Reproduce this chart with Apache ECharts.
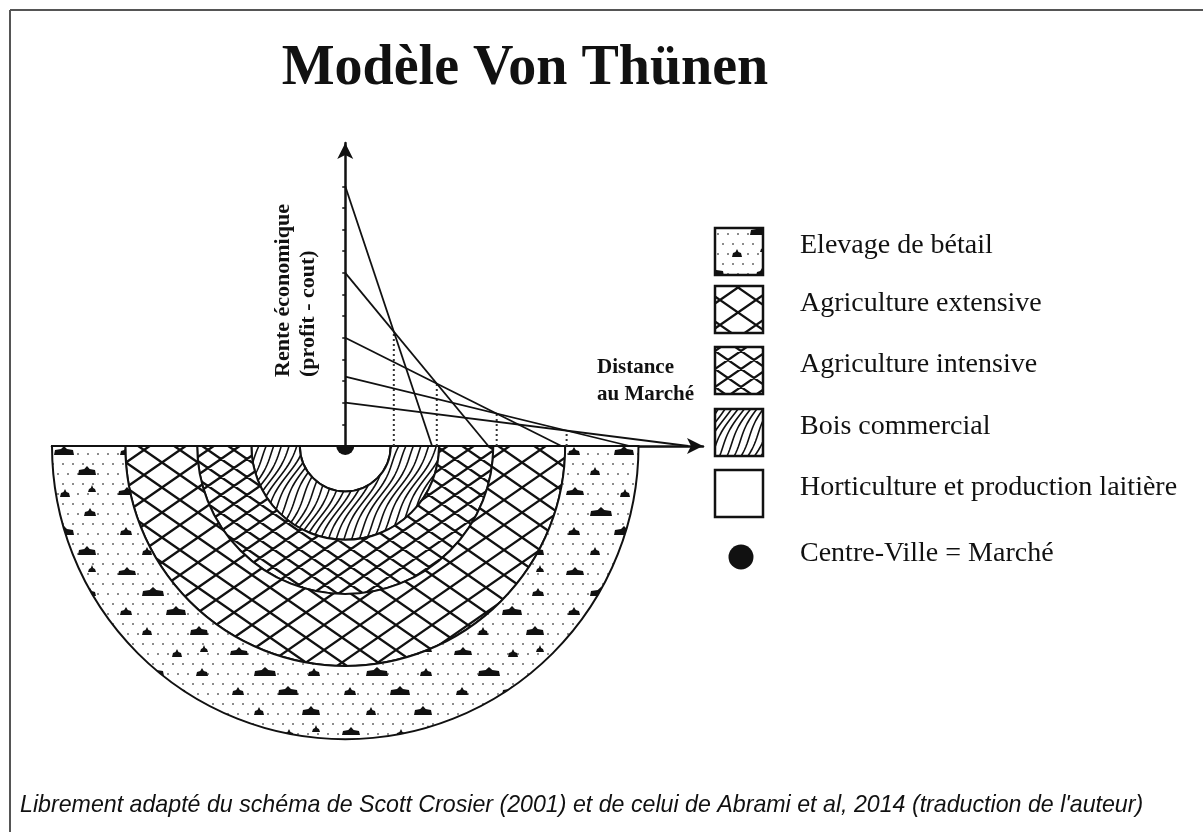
<!DOCTYPE html>
<html>
<head>
<meta charset="utf-8">
<title>Modèle Von Thünen</title>
<script src="https://cdn.jsdelivr.net/npm/echarts@6/dist/echarts.min.js"></script>
<style>
  html, body { margin: 0; padding: 0; background: #fff; }
  #chart { width: 1203px; height: 832px; }
</style>
</head>
<body>
<div id="chart"></div>
<script>
// utilisations du sol, du centre vers l'extérieur
const landUses = ['Horticulture et production laitière', 'Bois commercial', 'Agriculture intensive', 'Agriculture extensive', 'Elevage de bétail']
// rente au marché (distance 0), en graduations
const rentAtMarket = [12, 8, 5, 3.2, 2]
// distance où la rente devient nulle
const rentZeroDistance = [29.6, 48.8, 73.7, 97, 117]
// rayon extérieur de chaque anneau (même unité que la distance)
const ringRadius = [15.5, 32, 50.5, 75, 100]
// graduations de l'axe de la rente
const rentTicks = [1, 2, 3, 4, 5, 6, 7, 8, 9, 10, 11, 12]
// ordre de la légende (indices dans landUses)
const legendOrder = [4, 3, 2, 1, 0]
const marketLabel = 'Centre-Ville = Marché'

const W = 1203, H = 832
const SERIF = "'Liberation Serif', 'Times New Roman', serif"

function makeCanvas() {
  const c = document.createElement('canvas')
  c.width = W
  c.height = H
  const ctx = c.getContext('2d')
  ctx.fillStyle = '#fff'
  ctx.fillRect(0, 0, W, H)
  return [c, ctx]
}

// treillis en losanges (cw = largeur, ch = hauteur d'un losange)
function latticePattern(cw, ch, lw) {
  const [c, ctx] = makeCanvas()
  const s = ch / cw
  ctx.strokeStyle = '#111'
  ctx.lineWidth = lw
  ctx.beginPath()
  const n = Math.ceil((H + s * W) / ch) + 2
  for (let k = -n; k <= n; k++) {
    ctx.moveTo(0, k * ch); ctx.lineTo(W, k * ch + s * W)
    ctx.moveTo(0, k * ch); ctx.lineTo(W, k * ch - s * W)
  }
  ctx.stroke()
  return c
}

// veinure du bois
function woodPattern() {
  const [c, ctx] = makeCanvas()
  ctx.strokeStyle = '#111'
  ctx.lineWidth = 1.6
  for (let d = -700; d < W + 100; d += 7) {
    ctx.beginPath()
    for (let y = 0; y <= H; y += 3) {
      const x = d + (H - y) * 0.55 + 2.5 * Math.sin(y / 11 + d / 23)
      y === 0 ? ctx.moveTo(x, y) : ctx.lineTo(x, y)
    }
    ctx.stroke()
  }
  return c
}

// pâturage : points gris et petites taches noires
function livestockPattern() {
  const [c, ctx] = makeCanvas()
  ctx.fillStyle = '#8c8c8c'
  for (let y = 3, r = 0; y < H; y += 10, r++) {
    for (let x = (r % 2) * 5 + 2; x < W; x += 10) ctx.fillRect(x, y, 2, 2)
  }
  const tw = 112, th = 80
  const blobs = [
    [6, 10, 18, 5], [60, 12, 10, 5], [88, 8, 8, 4],
    [30, 30, 22, 6], [84, 31, 12, 5],
    [8, 50, 12, 5], [54, 49, 20, 6],
    [30, 70, 10, 5], [78, 69, 18, 6]
  ]
  ctx.fillStyle = '#111'
  for (let ty = 0; ty < H; ty += th) {
    for (let tx = 0; tx < W; tx += tw) {
      blobs.forEach(([bx, by, bw, bh]) => {
        const x = tx + bx, y = ty + by
        ctx.beginPath()
        ctx.moveTo(x, y + bh)
        ctx.lineTo(x + bw, y + bh)
        ctx.lineTo(x + bw - 1, y + 1)
        ctx.lineTo(x + bw * 0.65, y)
        ctx.lineTo(x + bw * 0.5, y - 3)
        ctx.lineTo(x + bw * 0.35, y)
        ctx.lineTo(x + 1, y + 1)
        ctx.closePath()
        ctx.fill()
      })
    }
  }
  return c
}

const fills = [
  '#fff',
  { image: woodPattern(), repeat: 'no-repeat' },
  { image: latticePattern(26, 18, 2.3), repeat: 'no-repeat' },
  { image: latticePattern(36, 25, 2.3), repeat: 'no-repeat' },
  { image: livestockPattern(), repeat: 'no-repeat' }
]

// points d'intersection des droites de rente successives
const cuts = []
for (let i = 0; i < landUses.length - 1; i++) {
  const a1 = rentAtMarket[i], b1 = rentZeroDistance[i]
  const a2 = rentAtMarket[i + 1], b2 = rentZeroDistance[i + 1]
  const x = (a1 - a2) / (a1 / b1 - a2 / b2)
  cuts.push([x, a1 * (1 - x / b1)])
}

const rentLines = landUses.map((name, i) => ({
  name,
  type: 'line',
  data: [[0, rentAtMarket[i]], [rentZeroDistance[i], 0]],
  symbol: 'none',
  silent: true,
  z: 5,
  lineStyle: { color: '#111', width: 1.8 }
}))

const dottedLines = cuts.map((p, i) => ({
  name: 'limite ' + (i + 1),
  type: 'line',
  data: [[p[0], 0], [p[0], p[1]]],
  symbol: 'none',
  silent: true,
  z: 4,
  lineStyle: { color: '#333', width: 2, type: [2, 3] }
}))

const rings = {
  name: 'anneaux',
  type: 'custom',
  clip: false,
  silent: true,
  z: 2,
  data: ringRadius.map((r, i) => [i === 0 ? 0 : ringRadius[i - 1], r, i]),
  encode: { x: [0, 1], y: 2 },
  renderItem: (params, api) => {
    const c = api.coord([0, 0])
    const r0 = api.size([api.value(0), 0])[0]
    const r = api.size([api.value(1), 0])[0]
    return {
      type: 'sector',
      shape: { cx: c[0], cy: c[1], r0, r, startAngle: 0, endAngle: Math.PI, clockwise: true },
      style: { fill: fills[api.value(2)], stroke: '#111', lineWidth: 2 }
    }
  }
}

const market = {
  name: marketLabel,
  type: 'custom',
  clip: false,
  silent: true,
  z: 6,
  data: [[0, 0]],
  renderItem: (params, api) => {
    const c = api.coord([api.value(0), api.value(1)])
    return {
      type: 'sector',
      shape: { cx: c[0], cy: c[1], r0: 0, r: 9, startAngle: 0, endAngle: Math.PI, clockwise: true },
      style: { fill: '#111' }
    }
  }
}

// légende dessinée à la main (carrés avec motifs)
const legendTops = [228, 286, 347, 409, 470]
const legendGraphics = []
legendOrder.forEach((idx, k) => {
  legendGraphics.push({
    type: 'rect',
    shape: { x: 715, y: legendTops[k], width: 48, height: 47 },
    style: { fill: fills[idx], stroke: '#111', lineWidth: 2.5 }
  })
  legendGraphics.push({
    type: 'text',
    x: 800,
    y: legendTops[k] + 18,
    style: { text: landUses[idx], font: '28px ' + SERIF, fill: '#111', textAlign: 'left', textVerticalAlign: 'middle' }
  })
})
legendGraphics.push({
  type: 'circle',
  shape: { cx: 741, cy: 557, r: 12.5 },
  style: { fill: '#111' }
})
legendGraphics.push({
  type: 'text',
  x: 800,
  y: 554,
  style: { text: marketLabel, font: '28px ' + SERIF, fill: '#111', textAlign: 'left', textVerticalAlign: 'middle' }
})

// légende en bas, ajustée à la largeur
const caption = "Librement adapté du schéma de Scott Crosier (2001) et de celui de Abrami et al, 2014 (traduction de l'auteur)"
const captionFamily = "'Liberation Sans Narrow', 'Liberation Sans', sans-serif"
const mctx = document.createElement('canvas').getContext('2d')
mctx.font = 'italic 24px ' + captionFamily
const captionSize = Math.min(26, 24 * 1125 / mctx.measureText(caption).width)

const chart = echarts.init(document.getElementById('chart'))

const option = {
  backgroundColor: '#fff',
  animation: false,
  grid: { left: 52, top: 143, width: 651, height: 303 },
  xAxis: {
    type: 'value',
    min: -100,
    max: 122,
    axisLine: { show: true, symbol: ['none', 'arrow'], symbolSize: [12, 16], lineStyle: { color: '#111', width: 2.5 } },
    axisTick: { show: false },
    axisLabel: { show: false },
    splitLine: { show: false }
  },
  yAxis: {
    type: 'value',
    min: 0,
    max: 14,
    axisLine: { show: true, onZero: true, symbol: ['none', 'arrow'], symbolSize: [12, 16], lineStyle: { color: '#111', width: 2.5 } },
    axisTick: { show: true, customValues: rentTicks, length: 3, lineStyle: { color: '#111', width: 1.5 } },
    axisLabel: { show: false },
    splitLine: { show: false }
  },
  series: [rings, ...rentLines, ...dottedLines, market],
  graphic: {
    elements: [
      { type: 'line', shape: { x1: 10, y1: 10, x2: 10, y2: 832 }, style: { stroke: '#555', lineWidth: 2 } },
      { type: 'line', shape: { x1: 10, y1: 10, x2: 1203, y2: 10 }, style: { stroke: '#555', lineWidth: 2 } },
      {
        type: 'text', x: 525, y: 70,
        style: { text: 'Modèle Von Thünen', font: 'bold 56px ' + SERIF, fill: '#111', textAlign: 'center', textVerticalAlign: 'middle' }
      },
      {
        type: 'text', x: 283, y: 377, rotation: Math.PI / 2,
        style: { text: 'Rente économique', font: 'bold 22px ' + SERIF, fill: '#111', textAlign: 'left', textVerticalAlign: 'middle' }
      },
      {
        type: 'text', x: 308, y: 377, rotation: Math.PI / 2,
        style: { text: '(profit - cout)', font: 'bold 22px ' + SERIF, fill: '#111', textAlign: 'left', textVerticalAlign: 'middle' }
      },
      {
        type: 'text', x: 597, y: 368,
        style: { text: 'Distance', font: 'bold 21px ' + SERIF, fill: '#111', textAlign: 'left', textVerticalAlign: 'middle' }
      },
      {
        type: 'text', x: 597, y: 395,
        style: { text: 'au Marché', font: 'bold 21px ' + SERIF, fill: '#111', textAlign: 'left', textVerticalAlign: 'middle' }
      },
      ...legendGraphics,
      {
        type: 'text', x: 20, y: 806,
        style: { text: caption, font: 'italic ' + captionSize.toFixed(1) + 'px ' + captionFamily, fill: '#111', textAlign: 'left', textVerticalAlign: 'middle' }
      }
    ]
  }
}

chart.setOption(option)
</script>
</body>
</html>
